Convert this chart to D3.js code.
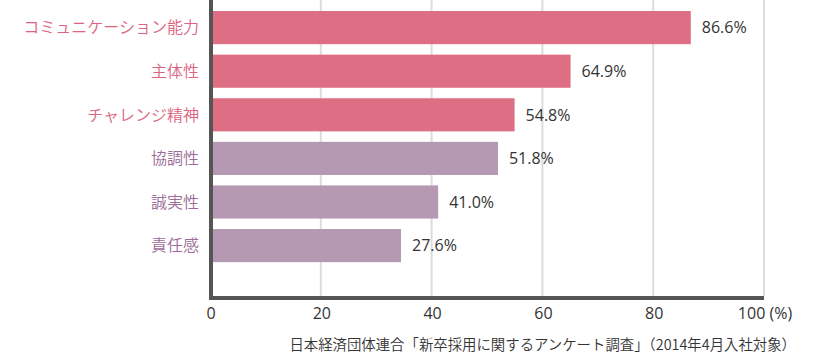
<!DOCTYPE html>
<html><head><meta charset="utf-8">
<script src="https://cdn.jsdelivr.net/npm/d3@7"></script>
<style>body{margin:0;background:#fff}svg{display:block}</style>
</head><body>
<svg id="c" width="820" height="356"></svg>
<script>
const categories = ["コミュニケーション能力","主体性","チャレンジ精神","協調性","誠実性","責任感"];
// percentages as printed on the labels
const values = [86.6, 64.9, 54.8, 51.8, 41.0, 27.6];
// bar lengths as drawn in the picture (the last bar is drawn longer than its label)
const barLengths = [86.6, 64.9, 54.8, 51.8, 41.0, 34.3];
const groups = ["a","a","a","b","b","b"];
const ticks = [0,20,40,60,80,100];
const tickLabels = ["0","20","40","60","80","100 (%)"];
const source = "日本経済団体連合「新卒採用に関するアンケート調査」（2014年4月入社対象）";

const barColor = {a:"#de6e84", b:"#b599b2"};
const textColor = {a:"#db6480", b:"#9b6c98"};
const font = "'Noto Sans CJK JP','Noto Sans',sans-serif";
const numFont = "'Open Sans','Noto Sans',sans-serif";

const svg = d3.select("#c");
const x = d3.scaleLinear().domain([0,100]).range([211,765]);
const y = d3.scaleBand().domain(categories).range([5.8,267.4]).paddingInner(0.24).paddingOuter(0.12);

// gridlines
svg.append("g").selectAll("line").data(ticks.slice(1)).join("line")
  .attr("x1",d=>x(d)-1).attr("x2",d=>x(d)-1).attr("y1",0).attr("y2",296)
  .attr("stroke","#dcdcdc").attr("stroke-width",2);

// bars
svg.append("g").selectAll("rect").data(categories).join("rect")
  .attr("x",x(0)).attr("y",d=>y(d)).attr("height",y.bandwidth())
  .attr("width",(d,i)=>x(barLengths[i])-x(0))
  .attr("fill",(d,i)=>barColor[groups[i]]);

// value labels
svg.append("g").selectAll("text").data(categories).join("text")
  .attr("x",(d,i)=>x(barLengths[i])+11).attr("y",d=>y(d)+y.bandwidth()/2)
  .attr("dy","0.36em").attr("font-family",numFont).attr("font-size",16).attr("fill","#333")
  .text((d,i)=>values[i].toFixed(1)+"%");

// category labels
svg.append("g").selectAll("text").data(categories).join("text")
  .attr("x",199).attr("y",d=>y(d)+y.bandwidth()/2)
  .attr("dy","0.36em").attr("text-anchor","end").attr("font-family",font).attr("font-size",16)
  .attr("font-weight",350)
  .attr("fill",(d,i)=>textColor[groups[i]])
  .text(d=>d);

// axes frame
svg.append("path").attr("d",`M${x(0)},0V298H${x(100)-1}`)
  .attr("fill","none").attr("stroke","#555").attr("stroke-width",4);

// tick labels
svg.append("g").selectAll("text").data(ticks).join("text")
  .attr("x",d=>x(d)).attr("y",313).attr("dy","0.36em").attr("text-anchor","middle")
  .attr("font-family",numFont).attr("font-size",16).attr("fill","#333")
  .text((d,i)=>tickLabels[i]);

svg.append("text").attr("x",796).attr("y",345).attr("dy","0.36em").attr("text-anchor","end")
  .attr("font-family",font).attr("font-size",14.4).attr("font-weight",350).attr("fill","#333").text(source);
</script>
</body></html>
